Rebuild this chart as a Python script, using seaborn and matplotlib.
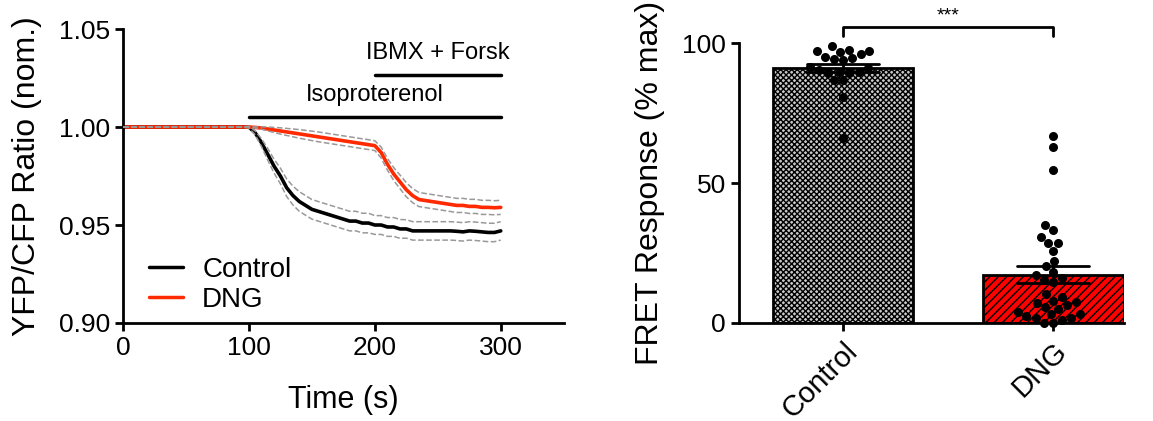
import numpy as np
import pandas as pd
import seaborn as sns
import matplotlib.pyplot as plt

# time course (s) and normalised YFP/CFP ratio
time = list(range(0, 301, 5))
control_mean = [1.000] * 20 + [
    1.000, 0.997, 0.992, 0.986, 0.980, 0.975, 0.969, 0.965, 0.962, 0.960,
    0.958, 0.957, 0.956, 0.955, 0.954, 0.953, 0.952, 0.952, 0.951, 0.951,
    0.950, 0.950, 0.949, 0.949, 0.948, 0.948, 0.947, 0.947, 0.947, 0.947,
    0.947, 0.947, 0.947, 0.9468, 0.9465, 0.947, 0.9468, 0.9465, 0.9462, 0.9462,
    0.947]
control_sem = [0.0] * 20 + [
    0.0005, 0.001, 0.002, 0.003, 0.0035, 0.004, 0.0045, 0.0048, 0.005, 0.005,
    0.005, 0.005, 0.005, 0.005, 0.005, 0.005, 0.005, 0.005, 0.005, 0.005,
    0.0048, 0.0048, 0.0048, 0.0048, 0.0048, 0.0047, 0.0047, 0.0047, 0.0047, 0.0047,
    0.0047, 0.0047, 0.0047, 0.0047, 0.0047, 0.0047, 0.0047, 0.0047, 0.0047, 0.0047,
    0.0047]
dng_mean = [1.000] * 20 + [
    1.000, 0.9998, 0.9995, 0.999, 0.9985, 0.998, 0.9975, 0.997, 0.9965, 0.996,
    0.9955, 0.995, 0.9945, 0.994, 0.9935, 0.993, 0.9925, 0.992, 0.9915, 0.991,
    0.9905, 0.987, 0.981, 0.976, 0.972, 0.968, 0.965, 0.963, 0.9625, 0.962,
    0.9615, 0.961, 0.9605, 0.960, 0.960, 0.9595, 0.9595, 0.959, 0.959, 0.9588,
    0.959]
dng_sem = [0.0] * 20 + [
    0.0, 0.0003, 0.0006, 0.001, 0.0013, 0.0016, 0.0018, 0.002, 0.0022, 0.0023,
    0.0024, 0.0025, 0.0025, 0.0025, 0.0025, 0.0025, 0.0025, 0.0025, 0.0025, 0.0025,
    0.0025, 0.0028, 0.003, 0.0033, 0.0035, 0.0036, 0.0036, 0.0036, 0.0036, 0.0036,
    0.0036, 0.0036, 0.0036, 0.0036, 0.0036, 0.0036, 0.0036, 0.0036, 0.0036, 0.0036,
    0.0036]

# individual FRET responses (% max)
control_pts = [98.9, 97.5, 97.1, 96.9, 96.1, 95.1, 94.5, 94.2, 93.9, 97.3,
               91.5, 91.0, 90.4, 89.8, 89.4, 89.2, 89.8, 86.8, 86.8, 80.8, 66.0]
dng_pts = [66.8, 63.0, 54.6, 35.0, 33.2, 30.6, 28.5, 28.5, 25.8, 22.3, 20.5,
           18.3, 17.1, 16.0, 15.5, 14.5, 10.2, 9.4, 8.0, 7.5, 7.3, 6.4, 5.8,
           5.0, 4.0, 3.1, 3.1, 2.5, 1.7, 1.7, 1.2, 0.0, 0.0]
groups = ['Control', 'DNG']

sns.set_style('ticks')
plt.rcParams['font.family'] = ['Liberation Sans', 'DejaVu Sans']
plt.rcParams['hatch.linewidth'] = 1.0
for k in ['text.color', 'axes.labelcolor', 'xtick.color', 'ytick.color', 'axes.edgecolor']:
    plt.rcParams[k] = 'black'
red = '#ff2a00'

trace = pd.DataFrame({
    'Time': time * 2,
    'Ratio': control_mean + dng_mean,
    'SEM': control_sem + dng_sem,
    'Group': ['Control'] * len(time) + ['DNG'] * len(time),
})
trace['upper'] = trace['Ratio'] + trace['SEM']
trace['lower'] = trace['Ratio'] - trace['SEM']

fig = plt.figure(figsize=(11.53, 4.21), dpi=100)
ax1 = fig.add_axes([0.1067, 0.2328, 0.3822, 0.6982])
ax2 = fig.add_axes([0.641, 0.2328, 0.334, 0.665])

# left: time course
sns.lineplot(data=trace, x='Time', y='Ratio', hue='Group', palette={'Control': 'black', 'DNG': red},
             linewidth=2.6, ax=ax1, zorder=2)
for col in ['upper', 'lower']:
    sns.lineplot(data=trace, x='Time', y=col, units='Group', estimator=None, color='#999999',
                 linestyle='--', linewidth=1.1, ax=ax1, zorder=3, legend=False)
ax1.set_xlim(0, 350)
ax1.set_ylim(0.90, 1.05)
ax1.set_xticks([0, 100, 200, 300])
ax1.set_yticks([0.90, 0.95, 1.00, 1.05])
ax1.set_yticklabels(['0.90', '0.95', '1.00', '1.05'])
ax1.set_xlabel('Time (s)', fontsize=22, labelpad=18)
ax1.set_ylabel('YFP/CFP Ratio (nom.)', fontsize=23, labelpad=12)

ax1.plot([100, 300], [1.0053, 1.0053], color='black', linewidth=2.5, clip_on=False)
ax1.text(200, 1.0105, 'Isoproterenol', ha='center', va='bottom', fontsize=17)
ax1.plot([200, 300], [1.0265, 1.0265], color='black', linewidth=2.5, clip_on=False)
ax1.text(250, 1.032, 'IBMX + Forsk', ha='center', va='bottom', fontsize=17)

leg = ax1.legend(loc='lower left', bbox_to_anchor=(0.06, 0.035), frameon=False, fontsize=20,
                 handlelength=1.2, handletextpad=0.7, labelspacing=0.15, borderpad=0, borderaxespad=0)
for h in leg.get_lines():
    h.set_linewidth(2.5)

# right: bar + scatter
resp = pd.DataFrame({
    'Group': ['Control'] * len(control_pts) + ['DNG'] * len(dng_pts),
    'Response': control_pts + dng_pts,
})
sns.barplot(data=resp, x='Group', y='Response', order=groups, errorbar='se', width=0.67,
            capsize=0.34, err_kws={'color': 'black', 'linewidth': 2}, ax=ax2,
            color='white', edgecolor='black', linewidth=2)
bar_style = {'Control': ('#c8c8c8', 'xxxxxx'), 'DNG': ('#ff0000', '////')}
for patch, g in zip(ax2.patches, groups):
    patch.set_facecolor(bar_style[g][0])
    patch.set_hatch(bar_style[g][1])
sns.swarmplot(data=resp, x='Group', y='Response', order=groups, color='black', size=6.5, ax=ax2,
              zorder=4, clip_on=False)
ax2.set_xlim(-0.495, 1.338)
ax2.set_ylim(0, 100)
ax2.set_yticks([0, 50, 100])
ax2.set_xlabel('')
ax2.set_ylabel('FRET Response (% max)', fontsize=23, labelpad=12)
ax2.set_xticks([0, 1])
ax2.set_xticklabels(groups, rotation=45, ha='right', rotation_mode='anchor', fontsize=21)

ax2.plot([0, 0, 1, 1], [102.5, 105.8, 105.8, 102.5], color='black', linewidth=2, clip_on=False)
ax2.text(0.5, 106.5, '***', ha='center', va='bottom', fontsize=14)

for ax in (ax1, ax2):
    sns.despine(ax=ax)
    for s in ('left', 'bottom'):
        ax.spines[s].set_linewidth(2)
    ax.tick_params(width=2, length=6, labelsize=19, direction='out')
ax2.tick_params(axis='x', labelsize=21, pad=4)

fig.savefig('out.png', dpi=100)
